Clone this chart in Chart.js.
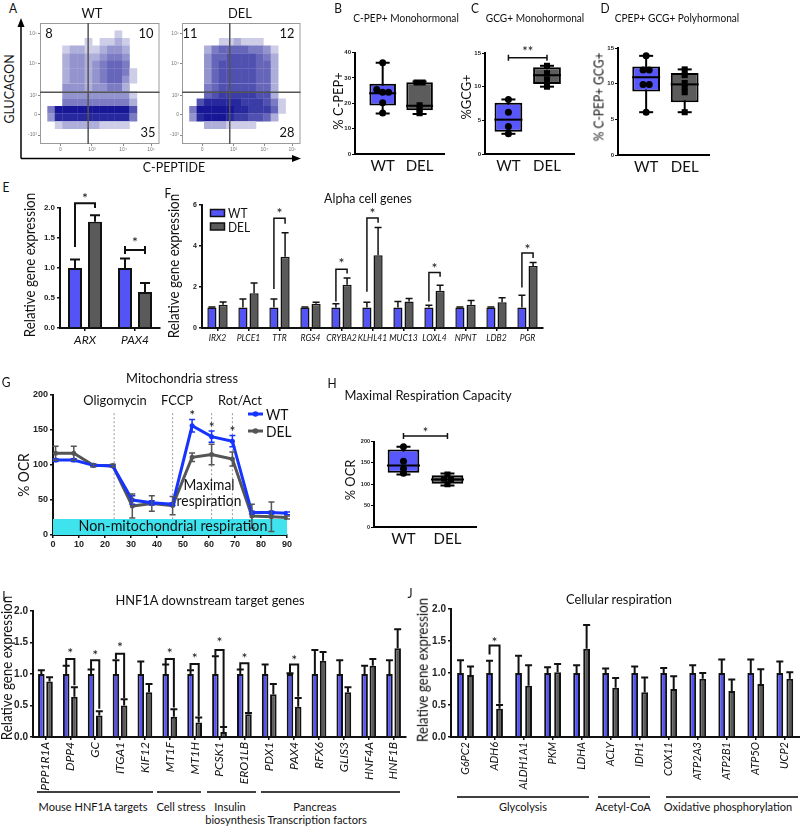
<!DOCTYPE html>
<html><head><meta charset="utf-8"><title>Figure</title>
<script src="https://cdn.jsdelivr.net/npm/chart.js@4.4.1/dist/chart.umd.min.js"></script>
<style>
html,body{margin:0;padding:0;background:#fff;}
#root{position:relative;width:800px;height:826px;overflow:hidden;background:#fff;font-family:Lato,'Open Sans',sans-serif;color:#111;}
#root canvas{position:absolute;}
#root svg{position:absolute;left:0;top:0;}
.t{position:absolute;white-space:nowrap;line-height:1;}
</style></head>
<body><div id="root"></div>
<script>
// ================= DATA =================
// Panel A: flow cytometry (density grid 16x16, rows top->bottom, 0-9)
const flowXTickPos=[17,43.5,69.5,93];
const flowXTickLab=['0','10³','10⁴','10⁵'];
const flowYTickPos=[7.4,24,40,66.7,91.5];
const flowYTickLab=['-10³','0','10³','10⁴','10⁵'];
const flowGate=[40.3,42.8];
const flowWT=[
'0000000000000000',
'0000000000100000',
'0000001011210000',
'0001221123320000',
'0002332234430000',
'0002332345540000',
'0002332345541000',
'0002332345531000',
'0003332334420000',
'0003333333331000',
'0004444444442000',
'0499999999996000',
'0388888888884000',
'0012222211110000',
'0000000000000000',
'0000000000000000'];
const flowDEL=[
'0000000000000000',
'0000000000000000',
'0000011211100000',
'0002455554431000',
'0003556666542000',
'0003566666552000',
'0003566666552000',
'0003566666552000',
'0004566666552000',
'0005677777662000',
'0068888877764100',
'0499999887775100',
'0389998776652000',
'0002221111000000',
'0000000000000000',
'0000000000000000'];
const quadWT=['8','10','35'];
const quadDEL=['11','12','28'];

// Box plots: [min, q1, median, q3, max]
const boxGroups=['WT','DEL'];
const bStatsWT=[16,19.1,23.9,27.7,36];
const bStatsDEL=[15.8,17.2,19,28.3,28.6];
const bPtsWT=[36,25.4,24.3,24.3,20.2,16.2];
const bPtsDEL=[28.2,28.2,19.2,17.6,16.1];
const cStatsWT=[3,3.3,5.1,7.6,8.1];
const cStatsDEL=[10,10.4,11.7,12.9,13.1];
const cPtsWT=[8.1,6.2,4.1,3];
const cPtsDEL=[13.1,12,11.1,10];
const cSig=[14.3,15.6];
const dStatsWT=[6,8.9,10.9,12.4,13.9];
const dStatsDEL=[6,7.4,9.9,11.5,12];
const dPtsWT=[13.9,11.9,11.9,9.9,9.9,6];
const dPtsDEL=[12,11.2,10.1,9.5,8.8,6];
const hStatsWT=[123,127,144,181,188];
const hStatsDEL=[97,101,111,121,125];
const hPtsWT=[188,154,136,126];
const hPtsDEL=[123,113,110,100];
const hSig=[213,228];

// Panel E
const eGenes=['ARX','PAX4'];
const eWT=[1.0,1.0];
const eWTerr=[0.14,0.16];
const eDEL=[1.77,0.6];
const eDELerr=[0.11,0.15];
const eSig=[[0,1.35,2.08,2.0,2.22]];
const eSigBar=[[1,1.3,1.48]];

// Panel F
const fGenes=['IRX2','PLCE1','TTR','RGS4','CRYBA2','KLHL41','MUC13','LOXL4','NPNT','LDB2','PGR'];
const fWT=[1,1,1,1,1,1,1,1,1,1,1];
const fWTerr=[0.03,0.42,0.42,0.03,0.18,0.26,0.29,0.11,0.02,0.02,0.6];
const fDEL=[1.13,1.69,3.48,1.18,2.11,3.55,1.29,1.82,1.13,1.26,3.02];
const fDELerr=[0.14,0.51,1.17,0.08,0.33,1.35,0.15,0.26,0.21,0.22,0.17];
const fSig=[[2,1.9,5.35,5.08,5.75],[4,1.29,2.87,2.66,3.28],[5,1.77,5.37,5.13,5.75],[7,1.29,2.71,2.5,3.08],[10,1.97,3.66,3.42,4.0]];

// Panel G
const gTime=[1,8,15.5,23,30.5,38,46,53.5,61,69,76.5,84,90];
const gWT=[107,107,99.5,98.6,50,46,44,156,140.5,134,32,32,31];
const gWTerr=[2,2,1.5,1.5,6,3,2,9,8,8,2,2,2];
const gDEL=[116.7,116.7,99.5,99,41.4,45,42,111,115,108.6,27,26,25];
const gDELerr=[10,10,2,2,17,11,13,6,14.5,10,17,21,2];
const gInject=[23.5,46,61,69];
const gStars=[7,8,9];
const gNonMito=23;

// Panel I
const iGenes=['PPP1R1A','DPP4','GC','ITGA1','KIF12','MT1F','MT1H','PCSK1','ERO1LB','PDX1','PAX4','RFX6','GLIS3','HNF4A','HNF1B'];
const iWT=[1,1,1,1,1,1,1,1,1,1,1,1,1,1,1];
const iWTerr=[0.06,0.13,0.07,0.22,0.2,0.15,0.06,0.28,0.07,0.15,0.01,0.38,0.22,0.13,0.22];
const iDEL=[0.88,0.64,0.34,0.5,0.71,0.32,0.23,0.08,0.36,0.68,0.48,1.21,0.71,1.13,1.41];
const iDELerr=[0.07,0.15,0.07,0.1,0.13,0.12,0.08,0.08,0.02,0.16,0.14,0.14,0.08,0.11,0.3];
const iSig=[[1,1.14,1.24,0.82,1.37],[2,1.08,1.22,0.45,1.35],[3,1.24,1.32,0.62,1.47],[5,1.16,1.24,0.47,1.37],[6,1.07,1.16,0.33,1.29],[7,1.29,1.38,0.17,1.55],[8,1.08,1.17,0.39,1.29],[10,1.02,1.15,0.64,1.26]];

// Panel J
const jGenes=['G6PC2','ADH6','ALDH1A1','PKM','LDHA','ACLY','IDH1','COX11','ATP2A3','ATP2B1','ATP5O','UCP2'];
const jWT=[1,1,1,1,1,1,1,1,1,1,1,1];
const jWTerr=[0.2,0.19,0.27,0.09,0.12,0.07,0.1,0.08,0.12,0.21,0.21,0.18];
const jDEL=[0.97,0.44,0.8,1.01,1.38,0.77,0.7,0.75,0.91,0.72,0.83,0.91];
const jDELerr=[0.13,0.06,0.32,0.13,0.37,0.15,0.23,0.2,0.09,0.18,0.23,0.1];
const jSig=[[1,1.29,1.43,0.52,1.53]];

// ================= RENDER =================
Chart.defaults.font.family="'Liberation Sans', Arial, sans-serif";
Chart.defaults.color='#111';
const root=document.getElementById('root');
const BAR_BLUE='#5353f6', BAR_GREY='#5a5a5a', BOX_BLUE='#5757fb', BOX_GREY='#5c5c5c';
const G_BLUE='#1634ff', G_GREY='#555555', CYAN='#3fe3ee';
const BASE={responsive:false,animation:false,events:[],devicePixelRatio:1};
const SX=0.92;

function canvasAt(x,y,w,h){
  const c=document.createElement('canvas');
  c.width=w;c.height=h;
  c.style.left=x+'px';c.style.top=y+'px';c.style.width=w+'px';c.style.height=h+'px';
  root.appendChild(c);return c;
}
function txt(s,x,y,size,o={}){
  const d=document.createElement('div');
  d.className='t';d.textContent=s;
  d.style.left=x+'px';d.style.top=y+'px';d.style.fontSize=size+'px';
  let tr;
  if(o.anchor==='left'){tr='translate(0,-50%)';d.style.transformOrigin='left center';}
  else tr='translate(-50%,-50%)';
  if(o.rot) tr+=' rotate(-90deg)';
  tr+=' scaleX('+(o.sx||SX)+')';
  d.style.transform=tr;
  if(o.bold) d.style.fontWeight='bold';
  if(o.italic) d.style.fontStyle='italic';
  root.appendChild(d);
}

const errPlugin={id:'errbars',afterDatasetsDraw(chart){
  const ctx=chart.ctx;
  chart.data.datasets.forEach((ds,i)=>{
    if(!ds.errors) return;
    const meta=chart.getDatasetMeta(i);
    const ys=chart.scales[meta.yAxisID];
    ctx.save();ctx.strokeStyle=ds.errColor||'#111';ctx.lineWidth=ds.errW||2;
    meta.data.forEach((el,j)=>{
      const raw=ds.data[j];const v=typeof raw==='number'?raw:raw.y;const e=ds.errors[j];
      if(!e) return;
      const x=el.x,yt=ys.getPixelForValue(v+e);
      const yb=ds.errBoth?ys.getPixelForValue(v-e):ys.getPixelForValue(v);
      const cw=ds.capW||4;
      ctx.beginPath();ctx.moveTo(x,yb);ctx.lineTo(x,yt);
      ctx.moveTo(x-cw,yt);ctx.lineTo(x+cw,yt);
      if(ds.errBoth){ctx.moveTo(x-cw,yb);ctx.lineTo(x+cw,yb);}
      ctx.stroke();
    });
    ctx.restore();
  });
}};
function star(ctx,x,yc,fs){ctx.font=fs+'px Lato';ctx.textAlign='center';ctx.textBaseline='alphabetic';ctx.fillText('*',x,yc+fs*0.55);}
const sigPlugin={id:'sig',afterDatasetsDraw(chart,a,o){
  const ctx=chart.ctx,y=chart.scales.y,m0=chart.getDatasetMeta(0),m1=chart.getDatasetMeta(1);
  ctx.save();ctx.strokeStyle='#111';ctx.fillStyle='#111';ctx.lineWidth=o.lw||2;
  (o.items||[]).forEach(it=>{
    const [i,l,t,r,s]=it;const xL=m0.data[i].x,xR=m1.data[i].x;
    ctx.beginPath();ctx.moveTo(xL,y.getPixelForValue(l));ctx.lineTo(xL,y.getPixelForValue(t));
    ctx.lineTo(xR,y.getPixelForValue(t));ctx.lineTo(xR,y.getPixelForValue(r));ctx.stroke();
    star(ctx,(xL+xR)/2,y.getPixelForValue(s),o.fs||14);
  });
  (o.bars||[]).forEach(b=>{
    const [i,v,s]=b;const xL=m0.data[i].x,xR=m1.data[i].x,py=y.getPixelForValue(v);
    ctx.beginPath();ctx.moveTo(xL,py);ctx.lineTo(xR,py);
    ctx.moveTo(xL,py-4);ctx.lineTo(xL,py+4);ctx.moveTo(xR,py-4);ctx.lineTo(xR,py+4);ctx.stroke();
    star(ctx,(xL+xR)/2,y.getPixelForValue(s),o.fs||14);
  });
  ctx.restore();
}};
const boxSigPlugin={id:'bsig',afterDatasetsDraw(chart,a,o){
  if(!o.v) return;
  const ctx=chart.ctx,x=chart.scales.x,y=chart.scales.y;
  const xL=x.getPixelForValue(0),xR=x.getPixelForValue(1),py=y.getPixelForValue(o.v[0]);
  ctx.save();ctx.strokeStyle='#111';ctx.fillStyle='#111';ctx.lineWidth=1.5;
  ctx.beginPath();ctx.moveTo(xL,py);ctx.lineTo(xR,py);
  ctx.moveTo(xL,py-3);ctx.lineTo(xL,py+3);ctx.moveTo(xR,py-3);ctx.lineTo(xR,py+3);ctx.stroke();
  ctx.font='13px Lato';ctx.textAlign='center';ctx.textBaseline='alphabetic';
  ctx.fillText(o.label,(xL+xR)/2,y.getPixelForValue(o.v[1])+7);
  ctx.restore();
}};
const gatePlugin={id:'gate',afterDatasetsDraw(chart,a,o){
  const ctx=chart.ctx,ca=chart.chartArea,x=chart.scales.x,y=chart.scales.y;
  ctx.save();ctx.strokeStyle='#9a9a9a';ctx.lineWidth=1;
  ctx.strokeRect(ca.left+0.5,ca.top+0.5,ca.width-1,ca.height-1);
  const px=x.getPixelForValue(flowGate[0]),py=y.getPixelForValue(flowGate[1]);
  ctx.strokeStyle='#555';ctx.lineWidth=1.5;ctx.beginPath();
  ctx.moveTo(px,ca.top);ctx.lineTo(px,ca.bottom);ctx.moveTo(ca.left,py);ctx.lineTo(ca.right,py);ctx.stroke();
  ctx.restore();
}};
const gPlugin={id:'gdeco',
  beforeDatasetsDraw(chart){
    const ctx=chart.ctx,x=chart.scales.x,y=chart.scales.y;
    ctx.save();ctx.strokeStyle='#999';ctx.lineWidth=1;ctx.setLineDash([2,2]);
    gInject.forEach(t=>{const px=x.getPixelForValue(t);ctx.beginPath();ctx.moveTo(px,y.getPixelForValue(174));ctx.lineTo(px,y.getPixelForValue(0));ctx.stroke();});
    ctx.restore();
  },
  afterDatasetsDraw(chart){
    const ctx=chart.ctx,y=chart.scales.y,m=chart.getDatasetMeta(0);
    ctx.save();ctx.fillStyle='#111';
    gStars.forEach(i=>{star(ctx,m.data[i].x,y.getPixelForValue(gWT[i]+gWTerr[i])-7,14);});
    ctx.restore();
  }};

function densColor(d){
  const f=Math.pow(Math.min(d,9)/9,0.7);
  const r=Math.round(255+(22-255)*f),g=Math.round(255+(22-255)*f),b=Math.round(255+(150-255)*f);
  return 'rgb('+r+','+g+','+b+')';
}
function flowChart(rect,grid){
  const cells=[];
  grid.forEach((row,r)=>{for(let c=0;c<row.length;c++){const d=+row[c];if(d>0)cells.push({x:(c+0.5)*100/16,y:100-(r+0.5)*100/16,d:d});}});
  const cv=canvasAt(...rect);
  new Chart(cv,{type:'scatter',
    data:{datasets:[{data:cells,pointStyle:'rect',pointRadius:5.5,pointBorderWidth:0,
      pointBackgroundColor:(ctx)=>ctx.raw?densColor(ctx.raw.d):'#fff'}]},
    options:{...BASE,layout:{padding:{top:6,right:5,left:0,bottom:0}},
      plugins:{legend:{display:false},tooltip:{enabled:false}},
      scales:{
        x:{type:'linear',min:0,max:100,afterBuildTicks:s=>{s.ticks=flowXTickPos.map(v=>({value:v}));},
          ticks:{callback:(v,i)=>flowXTickLab[i],font:{size:5},color:'#777',maxRotation:0,autoSkip:false,padding:1},
          grid:{drawOnChartArea:false,tickLength:2,color:'#888'},border:{display:false},afterFit:s=>{s.height=13;}},
        y:{type:'linear',min:0,max:100,afterBuildTicks:s=>{s.ticks=flowYTickPos.map(v=>({value:v}));},
          ticks:{callback:(v,i)=>flowYTickLab[i],font:{size:5},color:'#777',autoSkip:false,padding:1},
          grid:{drawOnChartArea:false,tickLength:2,color:'#888'},border:{display:false},afterFit:s=>{s.width=22;}}
      }},
    plugins:[gatePlugin]});
}

function swarm(vals,cx,tol,step){
  const out=[],used=vals.map(()=>false);
  for(let i=0;i<vals.length;i++){
    if(used[i]) continue;const grp=[i];used[i]=true;
    for(let j=i+1;j<vals.length;j++){if(!used[j]&&Math.abs(vals[j]-vals[i])<=tol){grp.push(j);used[j]=true;}}
    grp.forEach((k,n)=>out.push({x:cx+(n-(grp.length-1)/2)*step,y:vals[k]}));
  }
  return out;
}
function boxChart(o){
  const sW=o.stats[0],sD=o.stats[1],tol=o.yMax*0.03;
  const cv=canvasAt(...o.rect);
  new Chart(cv,{type:'bar',
    data:{datasets:[
      {type:'scatter',data:swarm(o.pts[0],0,tol,0.16),pointStyle:'circle',pointRadius:3.5,pointBackgroundColor:'#000',pointBorderWidth:0,order:0},
      {type:'scatter',data:swarm(o.pts[1],1,tol,0.16),pointStyle:'rect',pointRadius:4.3,pointBackgroundColor:'#000',pointBorderWidth:0,order:0},
      {type:'scatter',data:[{x:0,y:sW[2]},{x:1,y:sD[2]}],pointStyle:'line',pointRadius:o.boxW/2,pointBorderColor:'#000',pointBorderWidth:2,order:1},
      {type:'scatter',data:[{x:0,y:sW[0]},{x:0,y:sW[4]},{x:1,y:sD[0]},{x:1,y:sD[4]}],pointStyle:'line',pointRadius:7,pointBorderColor:'#000',pointBorderWidth:2,order:1},
      {type:'bar',data:[{x:0,y:[sW[1],sW[3]]},{x:1,y:[sD[1],sD[3]]}],backgroundColor:[BOX_BLUE,BOX_GREY],borderColor:'#000',borderWidth:2,borderSkipped:false,grouped:false,maxBarThickness:o.boxW,order:2},
      {type:'bar',data:[{x:0,y:[sW[0],sW[4]]},{x:1,y:[sD[0],sD[4]]}],backgroundColor:'#000',borderWidth:0,grouped:false,maxBarThickness:2,order:3}
    ]},
    options:{...BASE,layout:{padding:{top:o.padTop,right:o.padRight,left:0,bottom:0}},
      plugins:{legend:{display:false},tooltip:{enabled:false},bsig:o.sig?{v:o.sig,label:o.sigLabel}:{}},
      scales:{
        x:{type:'linear',min:o.xMin,max:o.xMax,offset:false,afterBuildTicks:s=>{s.ticks=[{value:0},{value:1}];},
          ticks:{callback:(v,i)=>boxGroups[i],font:{family:'Lato',size:15},color:'#111',padding:3,maxRotation:0,autoSkip:false},
          grid:{display:false,drawTicks:false,tickLength:0},border:{display:true,color:'#000',width:2},afterFit:s=>{s.height=o.H;}},
        y:{type:'linear',min:0,max:o.yMax,ticks:{stepSize:o.yStep,font:{weight:'bold',size:o.tick},color:'#222',padding:1},
          grid:{drawOnChartArea:false,tickLength:3,color:'#000',lineWidth:1},border:{display:true,color:'#000',width:2},
          afterFit:s=>{s.width=o.W;}}
      }},
    plugins:[boxSigPlugin]});
}
function barChart(o){
  const cv=canvasAt(...o.rect);
  const common={borderColor:'#111',borderWidth:o.bw,categoryPercentage:o.cat,barPercentage:o.bar,capW:o.cap,errW:o.bw};
  new Chart(cv,{type:'bar',
    data:{labels:o.genes,datasets:[
      Object.assign({label:'WT',data:o.wt,errors:o.wtErr,backgroundColor:BAR_BLUE},common),
      Object.assign({label:'DEL',data:o.del,errors:o.delErr,backgroundColor:BAR_GREY},common)
    ]},
    options:{...BASE,layout:{padding:{top:o.padTop,right:o.padRight,left:0,bottom:0}},
      plugins:{legend:{display:false},tooltip:{enabled:false},sig:{items:o.sig||[],bars:o.sigBars||[],lw:o.bw,fs:14}},
      scales:{
        x:{type:'category',offset:true,ticks:{font:{family:'Lato',style:'italic',size:o.xFont},color:'#111',maxRotation:o.rot,minRotation:o.rot,padding:2,autoSkip:false},
          grid:{drawOnChartArea:false,drawTicks:true,tickLength:3,color:'#111',lineWidth:1.5,offset:false},
          border:{display:true,color:'#111',width:2},afterFit:s=>{s.height=o.H;}},
        y:{type:'linear',min:0,max:o.yMax,ticks:{stepSize:o.yStep,font:{weight:'bold',size:o.tick},color:'#222',padding:2,
            callback:v=>o.dec?v.toFixed(o.dec):String(v)},
          grid:{drawOnChartArea:false,drawTicks:true,tickLength:3,color:'#111',lineWidth:1.5},
          border:{display:true,color:'#111',width:2},afterFit:s=>{s.width=o.W;}}
      }},
    plugins:[errPlugin,sigPlugin]});
}

// ---- SVG decorations
root.insertAdjacentHTML('beforeend',
'<svg width="800" height="826" xmlns="http://www.w3.org/2000/svg">'+
'<g stroke="#000" stroke-width="1.5" fill="none">'+
'<line x1="21" y1="158.5" x2="21" y2="25"/><line x1="21" y1="158.5" x2="294" y2="158.5"/>'+
'<line x1="37" y1="792" x2="153" y2="792"/><line x1="157" y1="792" x2="201" y2="792"/>'+
'<line x1="207" y1="792" x2="256" y2="792"/><line x1="261" y1="792" x2="400" y2="792"/>'+
'<line x1="457" y1="797" x2="589" y2="797"/><line x1="598" y1="797" x2="650" y2="797"/><line x1="666" y1="797" x2="798" y2="797"/>'+
'</g>'+
'<polygon points="21,18 17.5,27 24.5,27" fill="#000"/><polygon points="301,158.5 292,155 292,162" fill="#000"/>'+
'<line x1="248" y1="414" x2="263" y2="414" stroke="'+G_BLUE+'" stroke-width="3"/><circle cx="255.5" cy="414" r="2.8" fill="'+G_BLUE+'"/>'+
'<line x1="248" y1="431" x2="263" y2="431" stroke="'+G_GREY+'" stroke-width="3"/><circle cx="255.5" cy="431" r="2.8" fill="'+G_GREY+'"/>'+
'<rect x="210.5" y="209.5" width="14" height="7" fill="'+BAR_BLUE+'" stroke="#111" stroke-width="1.5"/>'+
'<rect x="210.5" y="223" width="14" height="7" fill="'+BAR_GREY+'" stroke="#111" stroke-width="1.5"/>'+
'</svg>');

// ---- Panel A
flowChart([18,17,147,140],flowWT);
flowChart([160,17,146,140],flowDEL);

// ---- Panels B, C, D, H
boxChart({rect:[325,37,135,142],W:30,H:25,padTop:10,padRight:8,xMin:-0.75,xMax:1.675,yMax:40,yStep:10,tick:6,
  stats:[bStatsWT,bStatsDEL],pts:[bPtsWT,bPtsDEL],boxW:27});
boxChart({rect:[458,37,132,142],W:27,H:25,padTop:10,padRight:8,xMin:-0.607,xMax:1.70,yMax:15,yStep:5,tick:6,
  stats:[cStatsWT,cStatsDEL],pts:[cPtsWT,cPtsDEL],boxW:28,sig:cSig,sigLabel:'**'});
boxChart({rect:[590,32,135,147],W:28,H:24,padTop:10,padRight:10,xMin:-0.73,xMax:1.63,yMax:15,yStep:5,tick:6,
  stats:[dStatsWT,dStatsDEL],pts:[dPtsWT,dPtsDEL],boxW:28});
boxChart({rect:[345,423,150,125],W:29,H:21,padTop:10,padRight:8,xMin:-0.67,xMax:1.66,yMax:200,yStep:50,tick:5.5,
  stats:[hStatsWT,hStatsDEL],pts:[hPtsWT,hPtsDEL],boxW:33,sig:hSig,sigLabel:'*'});

// ---- Panels E, F, I, J
barChart({rect:[35,186,130,162],W:25,H:20,padTop:22,padRight:5,genes:eGenes,wt:eWT,wtErr:eWTerr,del:eDEL,delErr:eDELerr,
  yMax:2,yStep:0.5,dec:1,tick:8,xFont:12,rot:0,cat:0.8,bar:0.7,bw:2,cap:5,sig:eSig,sigBars:eSigBar});
barChart({rect:[180,195,368,153],W:22,H:20,padTop:10,padRight:5,genes:fGenes,wt:fWT,wtErr:fWTerr,del:fDEL,delErr:fDELerr,
  yMax:6,yStep:2,dec:0,tick:7,xFont:8.6,rot:0,cat:0.72,bar:0.82,bw:1.5,cap:3.5,sig:fSig});
barChart({rect:[0,601,411,195],W:33,H:59,padTop:10,padRight:5,genes:iGenes,wt:iWT,wtErr:iWTerr,del:iDEL,delErr:iDELerr,
  yMax:2,yStep:0.5,dec:1,tick:10,xFont:12,rot:90,cat:0.66,bar:0.8,bw:2,cap:3.5,sig:iSig});
barChart({rect:[415,599,385,195],W:36,H:57,padTop:10,padRight:0,genes:jGenes,wt:jWT,wtErr:jWTerr,del:jDEL,delErr:jDELerr,
  yMax:2,yStep:0.5,dec:1,tick:10,xFont:11,rot:90,cat:0.69,bar:0.68,bw:2,cap:3.5,sig:jSig});

// ---- Panel G
(function(){
  const cv=canvasAt(20,385,275,172);
  new Chart(cv,{type:'scatter',
    data:{datasets:[
      {data:gTime.map((t,i)=>({x:t,y:gWT[i]})),showLine:true,borderColor:G_BLUE,borderWidth:3,pointRadius:2.5,pointBackgroundColor:G_BLUE,pointBorderWidth:0,
        errors:gWTerr,errBoth:true,errColor:G_BLUE,capW:3,errW:1.5,order:1},
      {data:gTime.map((t,i)=>({x:t,y:gDEL[i]})),showLine:true,borderColor:G_GREY,borderWidth:3,pointRadius:2.5,pointBackgroundColor:G_GREY,pointBorderWidth:0,
        errors:gDELerr,errBoth:true,errColor:G_GREY,capW:3,errW:1.5,order:2},
      {data:[{x:0,y:gNonMito},{x:90,y:gNonMito}],showLine:true,fill:'origin',backgroundColor:CYAN,borderWidth:0,pointRadius:0,order:5}
    ]},
    options:{...BASE,layout:{padding:{top:10,right:8,left:0,bottom:0}},
      plugins:{legend:{display:false},tooltip:{enabled:false}},
      scales:{
        x:{type:'linear',min:0,max:90,ticks:{stepSize:10,font:{weight:'bold',size:9},color:'#222',padding:1,maxRotation:0},
          grid:{drawOnChartArea:false,tickLength:3,color:'#111',lineWidth:1.5},border:{display:true,color:'#111',width:2},afterFit:s=>{s.height=22;}},
        y:{type:'linear',min:0,max:200,ticks:{stepSize:50,font:{weight:'bold',size:9},color:'#222',padding:2},
          grid:{drawOnChartArea:false,tickLength:3,color:'#111',lineWidth:1.5},border:{display:true,color:'#111',width:2},afterFit:s=>{s.width=33;}}
      }},
    plugins:[errPlugin,gPlugin]});
})();

// ---- Texts
txt('A',13,8,13);
txt('WT',92,13,14);txt('DEL',240,13,14);
txt(quadWT[0],49,33,14);txt(quadWT[1],146,33,14);txt(quadWT[2],148,132,14);
txt(quadDEL[0],190,33,14);txt(quadDEL[1],287,33,14);txt(quadDEL[2],287,132,14);
txt('GLUCAGON',10,89,13.5,{rot:true});
txt('C-PEPTIDE',174,168,13.5);
txt('B',338,8,13);txt('C',475,8,13);txt('D',605,8,13);
txt('C-PEP+ Monohormonal',406,17,11);txt('GCG+ Monohormonal',535,17,11);txt('CPEP+ GCG+ Polyhormonal',677,17,11);
txt('% C-PEP+',338,101,14,{rot:true});txt('%GCG+',466,97,14,{rot:true});txt('% C-PEP+ GCG+',599,97,13,{rot:true});
txt('E',6,187,13);txt('F',168,193,13);
txt('Relative gene expression',30,265,14.5,{rot:true});txt('Relative gene expression',174,266,14.5,{rot:true});
txt('Alpha cell genes',368,199,13.5);
txt('WT',228,213,13,{anchor:'left'});txt('DEL',228,227,13,{anchor:'left'});
txt('G',6,382,13);txt('Mitochondria stress',182,378,14);
txt('% OCR',23,475,15,{rot:true});
txt('Oligomycin',115,400,14);txt('FCCP',177,400,14);txt('Rot/Act',240,400,14);
txt('Maximal',209,484,15);txt('respiration',209,500,15);
txt('Non-mitochondrial respiration',173,526,15.5);
txt('WT',266,414,15,{anchor:'left'});txt('DEL',266,431,15,{anchor:'left'});
txt('H',332,383,13);txt('Maximal Respiration Capacity',428,395,14);
txt('% OCR',350,480,14,{rot:true});
txt('I',4,596,13);txt('HNF1A downstream target genes',210,600,14);
txt('Relative gene expression',7,668,14.5,{rot:true});
txt('J',410,593,13);txt('Cellular respiration',619,599,14);
txt('Relative gene expression',423,670,14.5,{rot:true});
txt('Mouse HNF1A targets',93,807,12);txt('Cell stress',181,807,12);txt('Insulin',230,807,12);txt('Pancreas',315,807,12);
txt('biosynthesis  Transcription factors',286,820,12);
txt('Glycolysis',523,807,12);txt('Acetyl-CoA',623,807,12);txt('Oxidative phosphorylation',728,807,12);
</script></body></html>
